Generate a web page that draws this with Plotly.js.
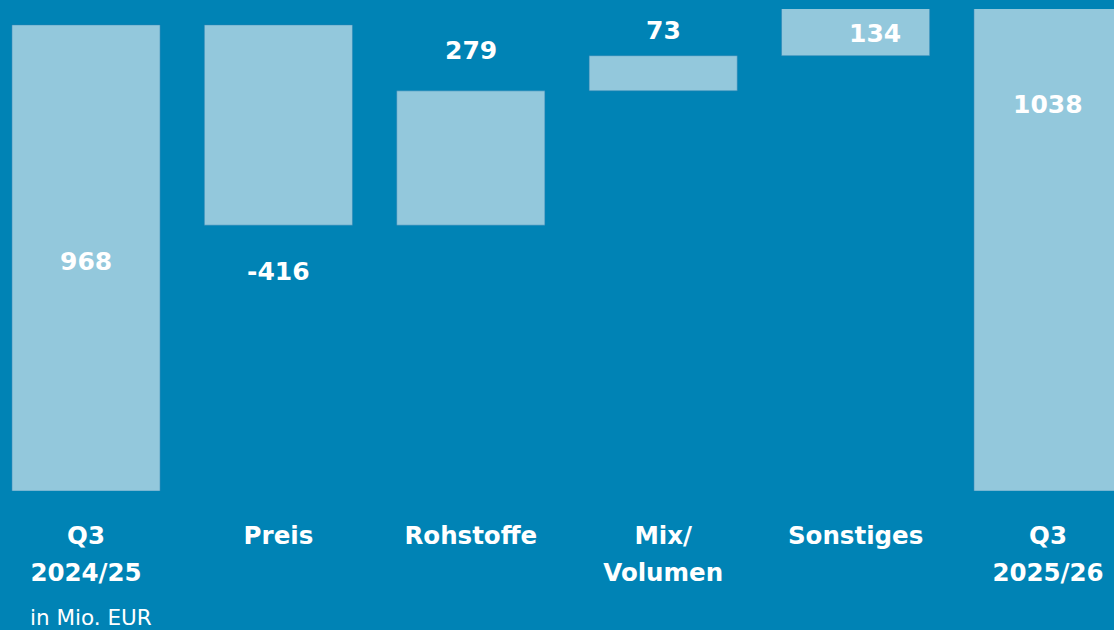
<!DOCTYPE html>
<html>
<head>
<meta charset="utf-8">
<script src="https://cdn.plot.ly/plotly-3.0.1.min.js"></script>
<style>
html,body{margin:0;padding:0;background:#0083b5;}
#chart{width:1114px;height:630px;}
</style>
</head>
<body>
<div id="chart"></div>
<script>
// Data
const categoryLines = [["Q3", "2024/25"], ["Preis"], ["Rohstoffe"], ["Mix/", "Volumen"], ["Sonstiges"], ["Q3", "2025/26"]];
const values = [968, -416, 279, 73, 134, 1038];
const measures = ["absolute", "relative", "relative", "relative", "relative", "total"];
const valueLabels = ["968", "-416", "279", "73", "134", "1038"];
const unitNote = "in Mio. EUR";

const BG = "#0083b5";
const BAR = "#93c8dc";
const FONT = "'DejaVu Sans', sans-serif";
const YMAX = 1001;

const tickTexts = categoryLines.map(lines =>
  lines.map(l => "<span style='font-size:24.5px'><b>" + l + "</b></span>").join("<br>"));

// cumulative bases for labels
let run = 0;
const bottoms = [], tops = [];
values.forEach((v, i) => {
  if (measures[i] === "absolute" || measures[i] === "total") { bottoms.push(0); tops.push(v); run = v; }
  else { const s = run; run += v; bottoms.push(Math.min(s, run)); tops.push(Math.max(s, run)); }
});

// label placement: [y-value reference, yshift px, xshift px]
const labelPlace = [
  [(bottoms[0] + tops[0]) / 2, -4, 0],
  [bottoms[1], -46, 0],
  [tops[2], 40, 0],
  [tops[3], 25, 0],
  [bottoms[4], 22, 19],
  [Math.min(tops[5], YMAX), -95, 0]
];

const annotations = valueLabels.map((t, i) => ({
  x: i, y: labelPlace[i][0], xref: "x", yref: "y",
  text: "<b>" + t + "</b>", showarrow: false,
  yshift: labelPlace[i][1], xshift: labelPlace[i][2],
  xanchor: "center", yanchor: "middle",
  font: {family: FONT, size: 25, color: "#ffffff"}
}));
annotations.push({
  x: 91 / 1114, y: -0.262, xref: "paper", yref: "paper",
  text: unitNote, showarrow: false, xanchor: "center", yanchor: "middle",
  font: {family: FONT, size: 21.5, color: "#ffffff"}
});

const trace = {
  type: "waterfall",
  x: values.map((v, i) => i),
  y: values,
  measure: measures,
  width: 0.77,
  connector: {visible: false},
  increasing: {marker: {color: BAR, line: {color: "rgba(40,130,180,0.5)", width: 1}}},
  decreasing: {marker: {color: BAR, line: {color: "rgba(40,130,180,0.5)", width: 1}}},
  totals: {marker: {color: BAR, line: {color: "rgba(40,130,180,0.5)", width: 1}}},
  textinfo: "none",
  hoverinfo: "none"
};

const layout = {
  width: 1114, height: 630,
  paper_bgcolor: BG, plot_bgcolor: BG,
  margin: {l: 0, r: 0, t: 9, b: 139},
  showlegend: false,
  xaxis: {
    range: [-0.447, 5.343],
    tickmode: "array",
    tickvals: values.map((v, i) => i),
    ticktext: tickTexts,
    ticks: "outside", ticklen: 18, tickcolor: "rgba(0,0,0,0)",
    showgrid: false, zeroline: false, showline: false,
    tickfont: {family: FONT, size: 28.5, color: "#ffffff"},
    fixedrange: true
  },
  yaxis: {
    range: [0, YMAX],
    visible: false, showgrid: false, zeroline: false,
    fixedrange: true
  },
  annotations: annotations
};

Plotly.newPlot("chart", [trace], layout, {displayModeBar: false, staticPlot: true});
</script>
</body>
</html>
